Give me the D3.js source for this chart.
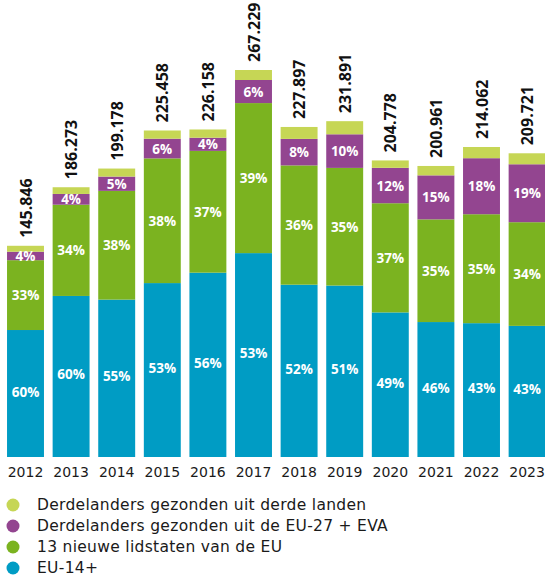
<!DOCTYPE html>
<html>
<head>
<meta charset="utf-8">
<script src="https://cdn.jsdelivr.net/npm/d3@7"></script>
<style>
  body { margin: 0; background: #fff; }
  svg { display: block; font-family: "Open Sans", sans-serif; }
</style>
</head>
<body>
<div id="chart"></div>
<script>
const years = ["2012", "2013", "2014", "2015", "2016", "2017", "2018", "2019", "2020", "2021", "2022", "2023"];
const totals = [145846, 186273, 199178, 225458, 226158, 267229, 227897, 231891, 204778, 200961, 214062, 209721];
const totalLabels = ["145.846", "186.273", "199.178", "225.458", "226.158", "267.229", "227.897", "231.891", "204.778", "200.961", "214.062", "209.721"];

// shares in % (bottom to top)
const eu14 = [60, 60, 55, 53, 56, 53, 52, 51, 49, 46, 43, 43];
const nieuw13 = [33, 34, 38, 38, 37, 39, 36, 35, 37, 35, 35, 34];
const eu27eva = [4, 4, 5, 6, 4, 6, 8, 10, 12, 15, 18, 19];
const derdeLanden = [2.8, 2.5, 2.8, 2.5, 2.5, 2.6, 3.6, 3.9, 2.5, 3.2, 3.6, 3.6]; // unlabeled

const seriesNames = [
  "EU-14+",
  "13 nieuwe lidstaten van de EU",
  "Derdelanders gezonden uit de EU-27 + EVA",
  "Derdelanders gezonden uit derde landen"
];
const seriesShares = [eu14, nieuw13, eu27eva, derdeLanden];
const seriesLabeled = [true, true, true, false];
const colors = ["#009cc4", "#7bb320", "#934590", "#c6d655"];

const width = 545, height = 577;
const baseline = 457, plotTop = 70;

const svg = d3.select("#chart")
  .append("svg")
  .attr("width", width)
  .attr("height", height);

const x = d3.scaleBand()
  .domain(years)
  .range([2.7, 549.9])
  .paddingInner(0.19)
  .paddingOuter(0.095);

const y = d3.scaleLinear()
  .domain([0, d3.max(totals)])
  .range([baseline, plotTop]);

// table of absolute counts per segment
const table = years.map((yr, i) => {
  const sum = d3.sum(seriesShares, s => s[i]);
  const row = { year: yr };
  seriesNames.forEach((name, k) => { row[name] = totals[i] * seriesShares[k][i] / sum; });
  return row;
});

const stacked = d3.stack().keys(seriesNames)(table);

const layers = svg.selectAll(".layer")
  .data(stacked)
  .enter()
  .append("g")
  .attr("fill", (d, k) => colors[k]);

layers.selectAll("rect")
  .data(d => d)
  .enter()
  .append("rect")
  .attr("x", d => x(d.data.year))
  .attr("y", d => y(d[1]))
  .attr("width", x.bandwidth())
  .attr("height", d => y(d[0]) - y(d[1]));

// percentage labels
stacked.forEach((layer, k) => {
  if (!seriesLabeled[k]) return;
  svg.append("g")
    .selectAll("text")
    .data(layer)
    .enter()
    .append("text")
    .attr("x", d => x(d.data.year) + x.bandwidth() / 2)
    .attr("y", (d, i) => (y(d[0]) + y(d[1])) / 2 - (k === 0 ? 2 : 0))
    .attr("text-anchor", "middle")
    .attr("dominant-baseline", "central")
    .attr("fill", "#fff")
    .style("font-size", "13.5px")
    .style("font-weight", "700")
    .text((d, i) => seriesShares[k][i] + "%");
});

// totals, rotated
svg.append("g")
  .selectAll("text")
  .data(years)
  .enter()
  .append("text")
  .attr("transform", (d, i) => `translate(${x(d) + x.bandwidth() / 2},${y(totals[i]) - 8}) rotate(-90)`)
  .attr("dominant-baseline", "central")
  .attr("fill", "#111")
  .style("font-size", "16px")
  .style("font-weight", "700")
  .text((d, i) => totalLabels[i]);

// x axis labels
svg.append("g")
  .attr("transform", `translate(0,${baseline})`)
  .call(d3.axisBottom(x).tickSize(0).tickPadding(10))
  .call(g => g.select(".domain").remove())
  .selectAll("text")
  .attr("fill", "#1a1a1a")
  .style("font-family", "'DejaVu Sans', sans-serif")
  .style("font-size", "14px");

// legend
const legendOrder = [3, 2, 1, 0];
const legend = svg.append("g")
  .selectAll("g")
  .data(legendOrder)
  .enter()
  .append("g")
  .attr("transform", (d, i) => `translate(0,${505 + i * 21})`);

legend.append("circle")
  .attr("cx", 13)
  .attr("cy", 0)
  .attr("r", 6.5)
  .attr("fill", k => colors[k]);

legend.append("text")
  .attr("x", 37)
  .attr("y", 0)
  .attr("dominant-baseline", "central")
  .attr("fill", "#1a1a1a")
  .style("font-family", "'DejaVu Sans', sans-serif")
  .style("font-size", "15.5px")
  .style("letter-spacing", "0.3px")
  .text(k => seriesNames[k]);
</script>
</body>
</html>
